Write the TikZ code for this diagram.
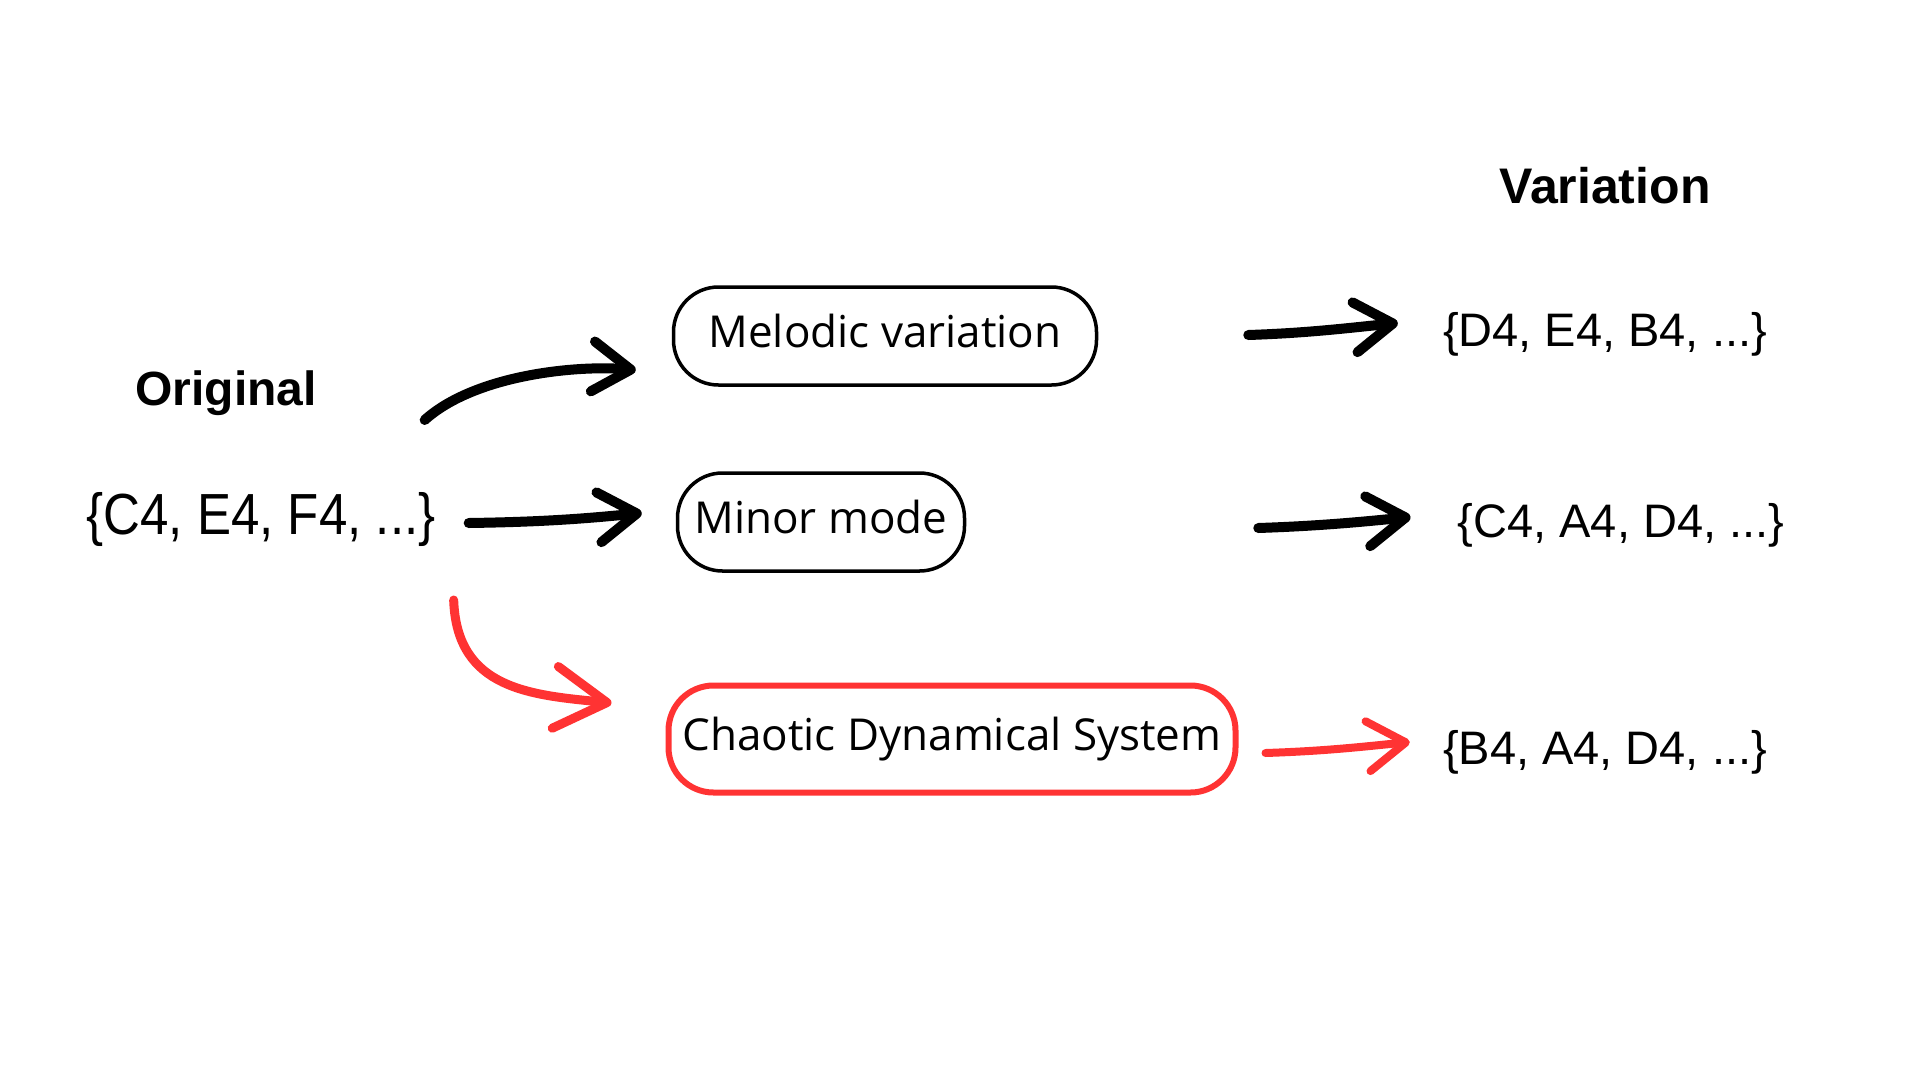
\documentclass[tikz,border=0pt]{standalone}
\usepackage{fontspec}
\setmainfont{Liberation Sans}
\newfontfamily\boxfont{Open Sans}
\newfontfamily\narrowfont[FakeStretch=0.88]{Liberation Sans}
\usetikzlibrary{arrows.meta}
\definecolor{chaosred}{RGB}{255,51,51}
\tikzset{
	stage/.style={draw, line width=3.5pt, rounded corners=45pt, inner sep=0pt, minimum height=98pt, text height=33pt, text depth=11pt, font=\boxfont\fontsize{44}{52}\selectfont},
	chaos/.style={stage, draw=chaosred, line width=6pt, minimum height=107pt},
	notes/.style={anchor=base, inner sep=0pt, font=\fontsize{47}{56}\selectfont},
	heading/.style={anchor=base, inner sep=0pt, font=\bfseries\fontsize{48}{58}\selectfont},
	sketch/.style={line width=10pt, line cap=round, -{Straight Barb[round, length=38pt, width=50pt]}},
	sketchred/.style={sketch, draw=chaosred, line width=8pt}
}

\begin{document}
\begin{tikzpicture}[x=1pt, y=-1pt]
		%%%%% START %%%%%
		\useasboundingbox (0, 0) rectangle (1920, 1080);
		
		\node[heading, font=\bfseries\fontsize{50}{60}\selectfont] (variation) at (1605, 203) {Variation};
		\node[heading] (original) at (226, 405) {Original};
		
		\node[anchor=base, inner sep=0pt, font=\narrowfont\fontsize{58}{68}\selectfont] (origset) at (261, 534) {\{C4, E4, F4, ...\}};
		
		\node[stage, minimum width=423pt] (melodic) at (885, 336) {Melodic variation};
		\node[stage, minimum width=287pt] (minor) at (821, 522) {Minor mode};
		\node[chaos, minimum width=567pt] (chaotic) at (952, 739) {Chaotic Dynamical System};
		
		\node[notes] (melset) at (1605, 346) {\{D4, E4, B4, ...\}};
		\node[notes] (minset) at (1621, 537) {\{C4, A4, D4, ...\}};
		\node[notes] (chaosset) at (1605, 764) {\{B4, A4, D4, ...\}};
		
		% into the three methods
		\draw[sketch] ([shift={(-11,-114)}]origset.base east) .. controls +(50,-45) and +(-60,-5) .. ([shift={(-36,34)}]melodic.west);
		\draw[sketch] ([shift={(33,-11)}]origset.base east) .. controls +(70,-1) and +(-60,6) .. ([shift={(-34,-9)}]minor.west);
		\draw[sketchred, line width=9pt, -{Straight Barb[round, length=52pt, width=62pt]}] ([shift={(18,66)}]origset.base east) .. controls +(3,90) and +(-80,-8) .. ([shift={(-54,-36)}]chaotic.west);
		
		% out to the variations
		\draw[sketch] ([shift={(150,-1)}]melodic.east) .. controls +(60,-2) and +(-50,5) .. ([shift={(-45,-23)}]melset.base west);
		\draw[sketch] ([shift={(292,6)}]minor.east) .. controls +(60,-2) and +(-50,5) .. ([shift={(-47,-20)}]minset.base west);
		\draw[sketchred] ([shift={(27,14)}]chaotic.east) .. controls +(60,-2) and +(-50,5) .. ([shift={(-33,-22)}]chaosset.base west);
		
		%%%%% END %%%%%
	\end{tikzpicture}
\end{document}
